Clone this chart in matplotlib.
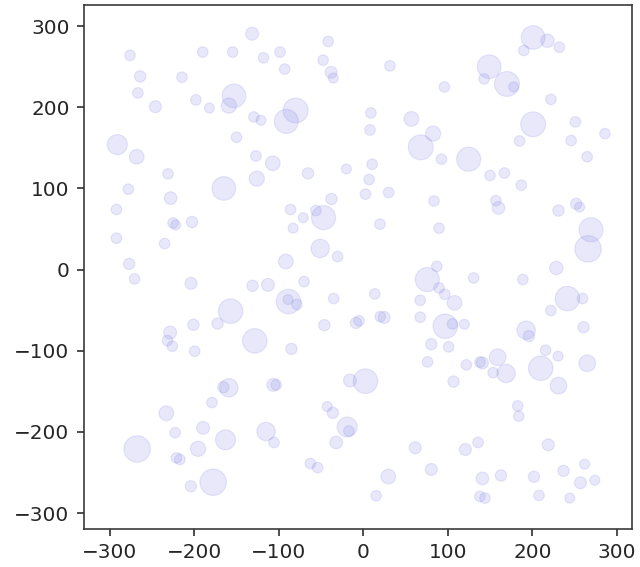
import matplotlib
matplotlib.use("Agg")
import matplotlib.pyplot as plt
import numpy as np

# (x, y, marker size in points^2)
x_vals = [
    -131.5, -41.5, -276, -190, -154.5, -118, -98.5, -93, -47.5, -38, -35.5, -264, -214.5, -266.7,
    -153, -159, -198, -182, -246, -80, -91, -129.5, -121, -291, -150, -268, -127, -107, -231,
    -65.4, -20, -278, -165, -126, -228, -37.6, -292, -86, -71, -47, -56, -225, -222, -202.6, -83,
    -292, -235, -51, -30.4, -91.6, -277,
    201, 218, 232, 190, 149, 170, 143, 178, 31.6, 96, 222, 201, 185, 251, 286, 246, 265, 9, 8,
    57, 68, 82.6, 92.5, 124.7, 10.5, 7, 2.6, 30, 150, 167, 187, 83.7, 157, 160, 231, 252, 256,
    19.7, 89.7, 269.5, 266, 228.5,
    -270.6, -203.8, -131, -112.8, -70, -88.5, -89, -78.5, -35, -157, -172.4, -201, -46, -8.6, -5,
    -228.5, -231.7, -226, -128.3, -199.5, -85, -15.7, 2.6, -159, -165.6, -106.4, -103, -179, -233,
    -42.7, -36, -222.6, -189.5, -115, -105.6, -19, -17, -163, -32, -267.5, -195.5, -221, -217,
    -62.6, -54, -177.6, -204,
    87, 75.8, 89.7, 96.4, 108, 130.7, 188.8, 241.6, 259.5, 13.7, 67.4, 222, 24.8, 20, 67.4, 97,
    105.6, 119.6, 192.7, 196, 260.7, 80.5, 101, 215.7, 230.5, 210, 265, 159, 169, 141, 138, 153.7,
    122, 76, 106.8, 231, 182.8, 184, 219, 61.5, 120.8, 135.8, 29.6, 80.5, 141, 163, 202, 237, 262,
    257, 274, 15.3, 138, 144, 208, 244.4,
]
y_vals = [
    290.6, 281, 264, 268, 268, 261, 268, 247, 258, 243, 236, 238, 237, 217.6,
    214, 202, 209, 199, 200.7, 196, 182.6, 188, 184, 154, 163, 139, 140, 131, 118,
    118.6, 124, 99, 100, 112, 88, 87, 74, 74, 64, 64, 72.7, 57.5, 55, 58.7, 51,
    38.6, 32, 26, 16, 10, 7,
    286, 282, 274, 270, 250, 228.7, 235, 225, 251, 225, 209.7, 179, 158.5, 182, 167.5, 159, 139, 193, 172,
    185.6, 150.6, 167.5, 136, 136, 129.7, 111, 93, 95, 116, 119, 104, 84.6, 85, 76, 72.7, 81, 77,
    56, 51, 49, 25.5, 2,
    -11.5, -16.9, -20, -18.9, -14.8, -39.4, -37, -43, -35.7, -51.3, -66.5, -68, -68.5, -65.7, -63,
    -77.6, -87.4, -94.4, -87.8, -100.6, -97.7, -136.7, -137.5, -145.7, -145, -142, -142, -163.8, -177,
    -168.7, -176.5, -201, -195, -199.5, -213, -194, -199, -209.8, -213, -221, -220.8, -232, -234,
    -239, -244, -262, -267,
    4, -12.3, -22.6, -30.4, -41, -10.3, -12.3, -35.7, -35.7, -30, -37.8, -50.5, -59, -58, -58.7, -69.8,
    -66.9, -67.4, -74.7, -82, -71, -92, -95.2, -99.4, -106.7, -121.5, -115.4, -108, -128, -115, -114, -127,
    -117.4, -113.7, -138, -143, -168, -180.6, -216, -219.6, -221.7, -213, -255, -246.3, -257.4, -253.7, -255.3, -248, -239.8,
    -262.7, -259.5, -278.7, -279.5, -281.6, -278.3, -281.6,
]
sizes = [
    42, 28, 28, 28, 28, 28, 28, 28, 28, 36, 25, 32, 28, 28,
    140, 58, 28, 25, 36, 155, 145, 28, 25, 100, 28, 54, 28, 54, 28,
    32, 25, 28, 140, 58, 40, 32, 28, 28, 25, 145, 28, 28, 25, 32, 25,
    28, 28, 85, 28, 54, 32,
    140, 45, 28, 28, 140, 155, 28, 25, 28, 28, 28, 155, 28, 28, 28, 28, 28, 28, 28,
    54, 155, 58, 28, 145, 28, 28, 28, 28, 28, 28, 28, 28, 28, 40, 32, 32, 25,
    28, 28, 145, 175, 45,
    28, 36, 32, 42, 28, 150, 25, 28, 28, 150, 32, 32, 32, 32, 28,
    42, 28, 28, 150, 28, 32, 42, 150, 85, 32, 42, 28, 28, 54,
    25, 32, 28, 42, 85, 28, 100, 28, 100, 40, 175, 58, 28, 28,
    28, 28, 175, 32,
    28, 145, 28, 28, 54, 28, 28, 150, 28, 28, 28, 28, 36, 28, 28, 150,
    28, 25, 85, 32, 32, 32, 28, 28, 25, 150, 70, 70, 85, 36, 28, 28,
    28, 28, 32, 70, 28, 28, 36, 36, 36, 28, 54, 36, 40, 32, 32, 32, 25,
    36, 25, 28, 28, 28, 28, 25,
]

x_ticks = [-300, -200, -100, 0, 100, 200, 300]
y_ticks = [-300, -200, -100, 0, 100, 200, 300]

fig = plt.figure(figsize=(640 / 144, 567 / 144), dpi=144)
ax = fig.add_axes([0.1305, 0.0665, 0.857, 0.9247])

ax.scatter(x_vals, y_vals, s=sizes, color=(0.42, 0.42, 0.88), alpha=0.15, linewidths=0.6)

ax.set_xlim(-331, 318)
ax.set_ylim(-320, 326)
ax.set_xticks(x_ticks)
ax.set_yticks(y_ticks)
ax.tick_params(labelsize=10, colors="#262626")
for sp in ax.spines.values():
    sp.set_color("#333333")

fig.savefig("out.png", dpi=144)
